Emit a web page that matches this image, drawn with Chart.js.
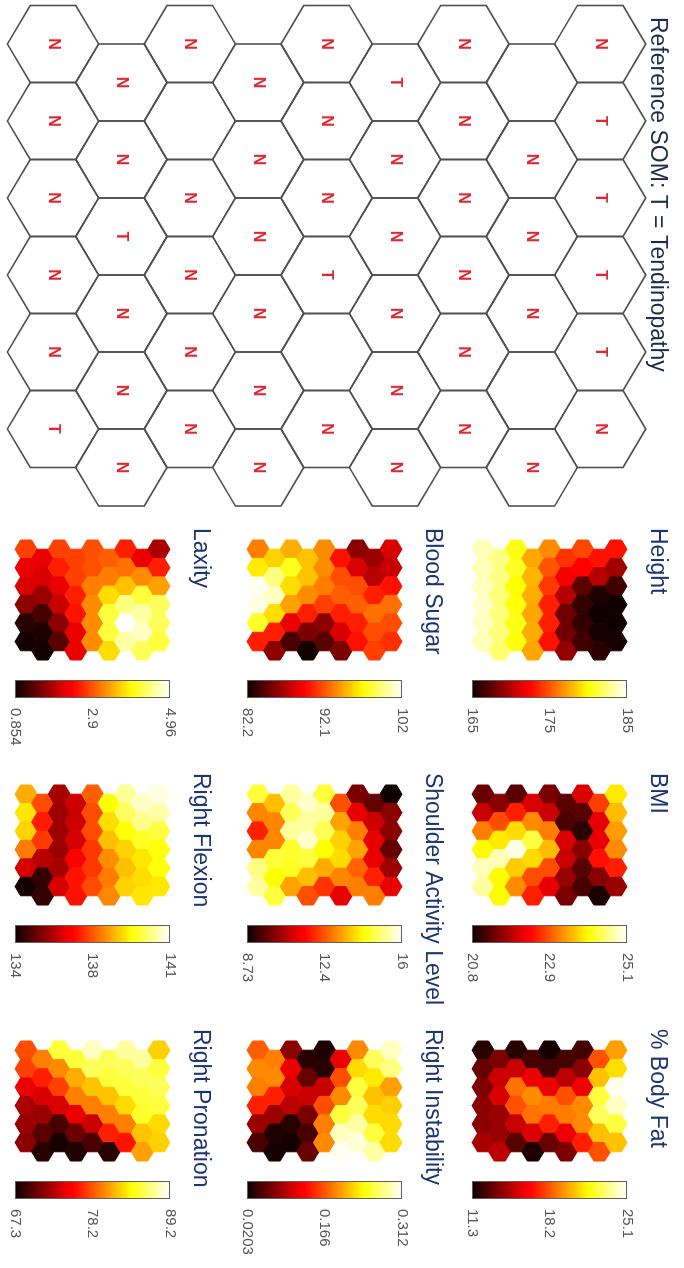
<!DOCTYPE html>
<html lang="en">
<head>
<meta charset="UTF-8">
<title>SOM component planes</title>
<script src="https://cdn.jsdelivr.net/npm/chart.js"></script>
<style>
    html, body {
        margin: 0;
        padding: 0;
        width: 684px;
        height: 1268px;
        overflow: hidden;
        background: #ffffff;
    }
    /* the figure is laid out landscape and turned a quarter clockwise */
    #frame {
        position: absolute;
        left: 0;
        top: 0;
        width: 1268px;
        height: 684px;
        transform-origin: 0 0;
        transform: translate(684px, 0) rotate(90deg);
    }
    #frame canvas {
        position: absolute;
    }
</style>
</head>
<body>
<div id="frame">
    <canvas id="ref" width="510" height="684" style="left:0;top:0"></canvas>
</div>

<script>
// ---- data (row 0 = bottom row of the map, 6 units per row) ----
const refClasses = [
    ['N', 'N', 'N', 'N', 'N', 'T'],
    ['N', 'N', 'T', 'N', 'N', 'N'],
    ['N', '', 'N', 'N', 'N', 'N'],
    ['N', 'N', 'N', 'N', 'N', 'N'],
    ['N', 'N', 'N', 'T', '', 'N'],
    ['T', 'N', 'N', 'N', 'N', 'N'],
    ['N', 'N', 'N', 'N', 'N', 'N'],
    ['', 'N', 'N', 'N', '', 'N'],
    ['N', 'T', 'T', 'T', 'T', 'N']
];

const heightVals = [
    [183.6, 183.6, 183.8, 184.0, 183.8, 183.6],
    [182.6, 182.6, 182.4, 182.4, 182.4, 182.2],
    [180.4, 180.6, 180.0, 180.2, 180.4, 180.2],
    [177.4, 177.8, 177.6, 177.4, 177.6, 177.4],
    [176.6, 175.0, 174.2, 173.4, 173.4, 173.0],
    [174.0, 172.0, 170.0, 168.0, 168.0, 169.0],
    [174.6, 172.2, 167.4, 166.2, 166.2, 166.6],
    [173.0, 170.0, 165.6, 165.2, 165.4, 166.0],
    [173.0, 169.4, 166.6, 165.2, 165.2, 165.4]
];
const heightTicks = ['165', '175', '185'];

const bmiVals = [
    [21.4, 22.0, 23.2, 24.0, 24.8, 24.7],
    [21.6, 22.9, 23.9, 24.8, 24.0, 24.0],
    [21.3, 22.6, 23.8, 25.0, 23.7, 23.3],
    [22.1, 23.3, 24.3, 23.8, 22.9, 22.6],
    [21.5, 22.0, 23.2, 23.6, 22.9, 22.2],
    [21.3, 21.2, 22.1, 22.0, 21.7, 21.5],
    [22.1, 21.3, 21.0, 21.6, 21.3, 21.2],
    [22.8, 22.2, 22.2, 22.5, 21.6, 20.9],
    [23.9, 23.6, 23.4, 23.3, 22.6, 21.7]
];
const bmiTicks = ['20.8', '22.9', '25.1'];

const fatVals = [
    [11.9, 13.2, 13.6, 13.9, 13.9, 14.5],
    [13.6, 15.2, 15.5, 14.2, 14.2, 14.9],
    [11.9, 15.2, 18.8, 18.1, 15.2, 12.9],
    [12.5, 15.9, 19.3, 18.8, 15.5, 11.7],
    [11.5, 12.5, 15.9, 19.0, 17.1, 13.2],
    [12.5, 14.9, 18.1, 19.0, 15.9, 13.6],
    [12.5, 13.9, 15.9, 19.3, 19.3, 17.1],
    [18.1, 20.4, 22.5, 22.9, 20.4, 18.1],
    [19.7, 21.0, 24.9, 24.3, 22.5, 20.4]
];
const fatTicks = ['11.3', '18.2', '25.1'];

const sugarVals = [
    [93.3, 96.5, 101.7, 101.4, 97.8, 90.5],
    [95.7, 99.5, 100.8, 96.1, 90.5, 86.0],
    [94.7, 97.6, 96.1, 94.3, 88.7, 84.0],
    [95.3, 95.3, 93.7, 90.5, 85.5, 82.5],
    [93.7, 93.7, 93.3, 91.5, 86.0, 84.5],
    [90.1, 91.9, 92.4, 90.5, 88.2, 85.5],
    [86.0, 88.2, 91.9, 92.4, 90.5, 90.1],
    [86.4, 87.3, 90.5, 92.9, 91.9, 91.5],
    [88.2, 87.7, 90.1, 92.9, 91.9, 91.0]
];
const sugarTicks = ['82.2', '92.1', '102'];

const activityVals = [
    [14.6, 12.9, 11.8, 12.9, 15.1, 15.3],
    [13.5, 12.9, 12.9, 14.6, 14.2, 14.6],
    [15.3, 14.8, 15.3, 14.5, 14.4, 13.2],
    [15.6, 15.3, 15.6, 14.6, 13.5, 12.3],
    [14.6, 15.3, 14.8, 14.2, 13.3, 12.0],
    [12.3, 13.2, 13.7, 13.8, 12.9, 11.1],
    [9.9, 11.1, 12.8, 13.2, 12.5, 12.8],
    [9.7, 10.8, 11.1, 11.1, 11.8, 12.8],
    [8.8, 10.1, 10.1, 9.7, 10.3, 11.1]
];
const activityTicks = ['8.73', '12.4', '16'];

const instabilityVals = [
    [0.170, 0.189, 0.184, 0.143, 0.082, 0.047],
    [0.184, 0.189, 0.143, 0.082, 0.029, 0.025],
    [0.076, 0.117, 0.109, 0.096, 0.033, 0.025],
    [0.033, 0.061, 0.102, 0.068, 0.047, 0.061],
    [0.029, 0.033, 0.102, 0.163, 0.184, 0.189],
    [0.117, 0.163, 0.189, 0.257, 0.294, 0.308],
    [0.189, 0.224, 0.257, 0.265, 0.286, 0.300],
    [0.265, 0.230, 0.213, 0.224, 0.257, 0.286],
    [0.294, 0.276, 0.198, 0.219, 0.224, 0.224]
];
const instabilityTicks = ['0.0203', '0.166', '0.312'];

const laxityVals = [
    [2.78, 2.21, 2.11, 1.63, 1.04, 0.92],
    [2.21, 2.11, 1.72, 1.22, 0.98, 0.92],
    [2.78, 2.58, 2.21, 2.00, 1.63, 1.34],
    [2.78, 2.78, 2.58, 2.50, 2.21, 2.21],
    [2.87, 2.87, 3.15, 3.24, 3.24, 3.24],
    [2.97, 3.15, 3.73, 4.18, 4.18, 3.73],
    [2.58, 3.07, 3.56, 4.45, 4.96, 4.59],
    [2.21, 3.24, 4.18, 4.59, 4.71, 4.30],
    [1.82, 2.58, 3.36, 4.30, 4.30, 4.18]
];
const laxityTicks = ['0.854', '2.9', '4.96'];

const flexionVals = [
    [138.4, 139.0, 138.8, 137.9, 136.1, 134.1],
    [137.4, 136.9, 137.2, 135.8, 134.4, 134.4],
    [135.6, 135.5, 135.5, 135.5, 135.6, 136.1],
    [136.0, 136.0, 136.1, 136.5, 136.8, 136.8],
    [137.6, 137.4, 137.4, 137.2, 137.2, 137.4],
    [139.3, 138.9, 138.6, 138.1, 137.9, 138.0],
    [140.3, 139.9, 139.3, 138.8, 138.6, 138.8],
    [140.6, 140.2, 139.5, 139.0, 138.9, 139.0],
    [140.8, 140.4, 139.7, 139.3, 139.3, 139.0]
];
const flexionTicks = ['134', '138', '141'];

const pronationVals = [
    [78.0, 77.6, 74.5, 72.4, 71.9, 71.5],
    [79.6, 76.5, 74.0, 71.9, 69.9, 68.3],
    [85.0, 80.0, 77.6, 74.0, 69.3, 67.7],
    [85.0, 81.1, 79.6, 74.5, 70.4, 68.0],
    [87.9, 85.7, 81.8, 79.6, 73.4, 69.3],
    [85.7, 85.0, 81.8, 79.6, 76.5, 68.3],
    [87.2, 85.7, 85.0, 82.6, 79.6, 76.1],
    [87.2, 85.7, 85.0, 84.6, 81.8, 80.7],
    [82.2, 85.0, 85.7, 85.0, 82.6, 82.2]
];
const pronationTicks = ['67.3', '78.2', '89.2'];

const planes = [
    { title: 'Height', vals: heightVals, ticks: heightTicks },
    { title: 'BMI', vals: bmiVals, ticks: bmiTicks },
    { title: '% Body Fat', vals: fatVals, ticks: fatTicks },
    { title: 'Blood Sugar', vals: sugarVals, ticks: sugarTicks },
    { title: 'Shoulder Activity Level', vals: activityVals, ticks: activityTicks },
    { title: 'Right Instability', vals: instabilityVals, ticks: instabilityTicks },
    { title: 'Laxity', vals: laxityVals, ticks: laxityTicks },
    { title: 'Right Flexion', vals: flexionVals, ticks: flexionTicks },
    { title: 'Right Pronation', vals: pronationVals, ticks: pronationTicks }
];

// ---- layout (landscape frame, before the quarter turn) ----
const SQ3 = Math.sqrt(3);
const FONT = "'Liberation Sans', Arial, sans-serif";
const PLANE_LEFT = [540, 785, 1041];   // left edge of each heat map
const PLANE_TOP = [57, 282, 514];      // top edge of heat map / colour bar
const HEAT_W = 120, HEAT_H = 155, HEAT_INSET = 12;
const CB_W = 100, CB_GAP = 20, CB_BAR = 18;
const TITLE_TOP = 6, TITLE_SIZE = 23;

// hexagon corners in data units (pointy top)
const HEX = [[0, 1 / SQ3], [0.5, 0.5 / SQ3], [0.5, -0.5 / SQ3], [0, -1 / SQ3], [-0.5, -0.5 / SQ3], [-0.5, 0.5 / SQ3]];

function hot(t) {
    t = Math.min(1, Math.max(0, t));
    const r = Math.min(1, 0.04 + t / 0.375);
    const g = Math.min(1, Math.max(0, (t - 0.375) / 0.375));
    const b = Math.min(1, Math.max(0, (t - 0.75) / 0.25));
    return `rgb(${Math.round(r * 255)},${Math.round(g * 255)},${Math.round(b * 255)})`;
}

function gridPoints(rows, key) {
    const pts = [];
    rows.forEach((row, i) => row.forEach((v, j) => {
        pts.push({ x: j + (i % 2) * 0.5, y: i * SQ3 / 2, [key]: v });
    }));
    return pts;
}

const hexCells = {
    id: 'hexCells',
    afterDatasetsDraw(chart, args, opts) {
        const { ctx } = chart;
        const xs = chart.scales.x, ys = chart.scales.y;
        const ds = chart.data.datasets[0];
        const meta = chart.getDatasetMeta(0);
        ctx.save();
        meta.data.forEach((pt, k) => {
            const raw = ds.data[k];
            ctx.beginPath();
            HEX.forEach(([dx, dy], n) => {
                const px = xs.getPixelForValue(raw.x + dx);
                const py = ys.getPixelForValue(raw.y + dy);
                n ? ctx.lineTo(px, py) : ctx.moveTo(px, py);
            });
            ctx.closePath();
            if (opts.fill) {
                const c = hot((raw.v - opts.lo) / (opts.hi - opts.lo));
                ctx.fillStyle = c;
                ctx.strokeStyle = c;
                ctx.lineWidth = 1;
                ctx.fill();
                ctx.stroke();
            } else {
                ctx.strokeStyle = '#505050';
                ctx.lineWidth = 1.6;
                ctx.stroke();
                if (raw.c) {
                    ctx.fillStyle = '#e2262f';
                    ctx.font = `bold 16px ${FONT}`;
                    ctx.textAlign = 'center';
                    ctx.textBaseline = 'middle';
                    ctx.fillText(raw.c, pt.x, pt.y);
                }
            }
        });
        ctx.restore();
    }
};

const colorBar = {
    id: 'colorBar',
    afterDraw(chart) {
        const s = chart.scales.cb;
        if (!s) return;
        const { ctx } = chart;
        const x0 = s.left + CB_GAP;
        const top = s.getPixelForValue(s.max), bot = s.getPixelForValue(s.min);
        const g = ctx.createLinearGradient(0, bot, 0, top);
        for (let k = 0; k <= 24; k++) g.addColorStop(k / 24, hot(k / 24));
        ctx.save();
        ctx.fillStyle = g;
        ctx.fillRect(x0, top, CB_BAR, bot - top);
        ctx.strokeStyle = '#5e5e5e';
        ctx.lineWidth = 1;
        ctx.strokeRect(x0 + 0.5, top + 0.5, CB_BAR - 1, bot - top - 1);
        ctx.restore();
    }
};

// ---- reference map ----
const REF_PAD_L = 17, REF_W = 510, REF_H = 684;
const REF_X0 = 44, REF_DX = 77, REF_Y0 = 631, REF_DY = 68.4;
const refTop = 13 + TITLE_SIZE * 1.2;
const refUnitY = REF_DY / (SQ3 / 2);

new Chart(document.getElementById('ref'), {
    type: 'scatter',
    data: { datasets: [{ data: gridPoints(refClasses, 'c'), pointRadius: 0, pointHoverRadius: 0 }] },
    options: {
        responsive: false,
        animation: false,
        events: [],
        layout: { padding: { left: REF_PAD_L } },
        plugins: {
            legend: { display: false },
            tooltip: { enabled: false },
            title: {
                display: true,
                text: 'Reference SOM: T = Tendinopathy',
                align: 'start',
                color: '#1e2a4c',
                font: { family: FONT, size: TITLE_SIZE, weight: 'normal' },
                padding: { top: 13, bottom: 0 }
            },
            hexCells: { fill: false }
        },
        scales: {
            x: { type: 'linear', display: false, min: (REF_PAD_L - REF_X0) / REF_DX, max: (REF_W - REF_X0) / REF_DX },
            y: { type: 'linear', display: false, min: (REF_Y0 - REF_H) / refUnitY, max: (REF_Y0 - refTop) / refUnitY }
        }
    },
    plugins: [hexCells]
});

// ---- component planes ----
const frame = document.getElementById('frame');
planes.forEach((p, n) => {
    const col = n % 3, row = Math.floor(n / 3);
    const areaTop = 50;
    const canvas = document.createElement('canvas');
    canvas.width = HEAT_INSET + HEAT_W + CB_W;
    canvas.height = areaTop + HEAT_H + 12;
    canvas.style.left = (PLANE_LEFT[col] - HEAT_INSET) + 'px';
    canvas.style.top = (PLANE_TOP[row] - areaTop) + 'px';
    frame.appendChild(canvas);

    const lo = parseFloat(p.ticks[0]);
    const hi = parseFloat(p.ticks[p.ticks.length - 1]);
    const ppu = HEAT_W / 6.5;
    const xmin = -0.5 - HEAT_INSET / ppu;

    new Chart(canvas, {
        type: 'scatter',
        data: { datasets: [{ data: gridPoints(p.vals, 'v'), pointRadius: 0, pointHoverRadius: 0 }] },
        options: {
            responsive: false,
            animation: false,
            events: [],
            layout: { padding: { left: 0, right: 0, top: 0, bottom: 12 } },
            plugins: {
                legend: { display: false },
                tooltip: { enabled: false },
                title: {
                    display: true,
                    text: p.title,
                    align: 'start',
                    color: '#1b3570',
                    font: { family: FONT, size: TITLE_SIZE, weight: 'normal' },
                    padding: { top: TITLE_TOP, bottom: areaTop - TITLE_TOP - TITLE_SIZE * 1.2 }
                },
                hexCells: { fill: true, lo, hi }
            },
            scales: {
                x: { type: 'linear', display: false, min: xmin, max: xmin + (HEAT_INSET + HEAT_W) / ppu },
                y: { type: 'linear', display: false, min: -1 / SQ3, max: 8 * SQ3 / 2 + 1 / SQ3 },
                cb: {
                    type: 'linear',
                    position: 'right',
                    min: lo,
                    max: hi,
                    // tick marks hidden; their length only sets the label offset past the bar
                    grid: { display: false, drawTicks: true, tickLength: CB_GAP + CB_BAR + 10 },
                    border: { display: false },
                    afterBuildTicks: s => { s.ticks = [lo, (lo + hi) / 2, hi].map(value => ({ value })); },
                    afterFit: s => { s.width = CB_W; },
                    ticks: {
                        autoSkip: false,
                        padding: 0,
                        color: '#555555',
                        font: { family: FONT, size: 15 },
                        callback: (v, k) => p.ticks[k]
                    }
                }
            }
        },
        plugins: [hexCells, colorBar]
    });
});
</script>
</body>
</html>
